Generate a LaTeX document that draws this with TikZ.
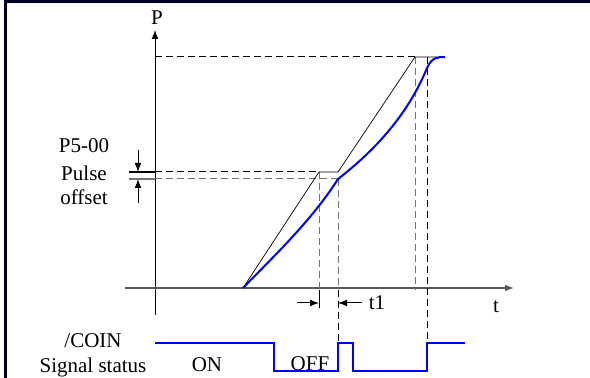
\documentclass[tikz,border=0pt]{standalone}
\usepackage{fontspec}
\setmainfont{Liberation Serif}
\usetikzlibrary{arrows.meta}
\begin{document}
\begin{tikzpicture}[x=0.5pt,y=-0.5pt,
    >={Latex[length=4.5pt,width=3.4pt]},line join=miter,
    axisline/.style={line width=0.5pt},
    guide/.style={line width=0.5pt,dash pattern=on 3.5pt off 2pt},
    refline/.style={line width=0.35pt},
    actual/.style={blue,line width=1pt},
    lbl/.style={font=\fontsize{10.5}{12}\selectfont,inner sep=0pt}]
  \useasboundingbox (0,0) rectangle (590,378);
  % Frame on the left and top edges.
  \draw[line width=1.5pt,black!85!blue] (5,378) -- (5,2) -- (590,2);
  % Axes.
  \coordinate (porig) at (155,315);
  \coordinate (ptop) at (155,30);
  \coordinate (tleft) at (125,288);
  \coordinate (tright) at (514,288);
  \draw[->,axisline] (porig) -- (ptop);
  \draw[->,line width=0.7pt,black!65] (tleft) -- (tright);
  \node[lbl] (plabel) at (157,18) {P};
  \node[lbl] (tlabel) at (496,307) {t};
  % Key points of the command and feedback curves.
  \coordinate (start) at (243,288);
  \coordinate (cmdA) at (319,172);
  \coordinate (cmdB) at (338,172);
  \coordinate (fbA) at (338,179);
  \coordinate (cmdC) at (415,57);
  \coordinate (fbC) at (427,68);
  \coordinate (fin) at (445,57);
  % Guide lines.
  \draw[guide] (155,57) -- (cmdC);
  \draw[guide] (155,172) -- (cmdA);
  \draw[guide,black!55] (155,179) -- (fbA);
  \draw[line width=0.6pt] (129,172) -- (155,172);
  \draw[line width=0.6pt,black!55] (129,179) -- (155,179);
  \draw[guide,black!55] (cmdA) -- (319,288);
  \draw[line width=0.5pt] (319,290) -- (319,308);
  \draw[guide,black!55] (fbA) -- (338,288);
  \draw[guide] (338,290) -- (338,343);
  \draw[guide,black!55] (cmdC) -- (415,290);
  \draw[guide] (427,57) -- (427,343);
  % Command position (thin) and actual position (blue).
  \draw[refline] (start) -- (cmdA) -- (cmdB) -- (cmdC) -- (fin);
  \draw[actual] (start) .. controls (275,255) and (312,220) .. (fbA)
    .. controls (365,158) and (405,122) .. (fbC)
    .. controls (432,57) and (438,57) .. (fin);
  % Pulse offset band.
  \node[lbl] (offA) at (84,146) {P5-00};
  \node[lbl] (offB) at (84,173) {Pulse};
  \node[lbl] (offC) at (84,197) {offset};
  \draw[->,line width=0.5pt] (138,150) -- (138,172);
  \draw[->,line width=0.5pt] (138,203) -- (138,179);
  % Delay t1.
  \draw[->,line width=0.5pt] (297,303) -- (319,303);
  \draw[->,line width=0.5pt] (362,303) -- (338,303);
  \node[lbl] (tone) at (377,303) {t1};
  % /COIN output.
  \node[lbl] (coin) at (93,341) {/COIN};
  \node[lbl] (sig) at (93,367) {Signal status};
  \draw[actual] (155,343) -- (274,343) -- (274,371) -- (338,371) -- (338,343)
    -- (353,343) -- (353,371) -- (427,371) -- (427,343) -- (465,343);
  \node[lbl] (on) at (207,365) {ON};
  \node[lbl] (off) at (310,364) {OFF};
\end{tikzpicture}
\end{document}
